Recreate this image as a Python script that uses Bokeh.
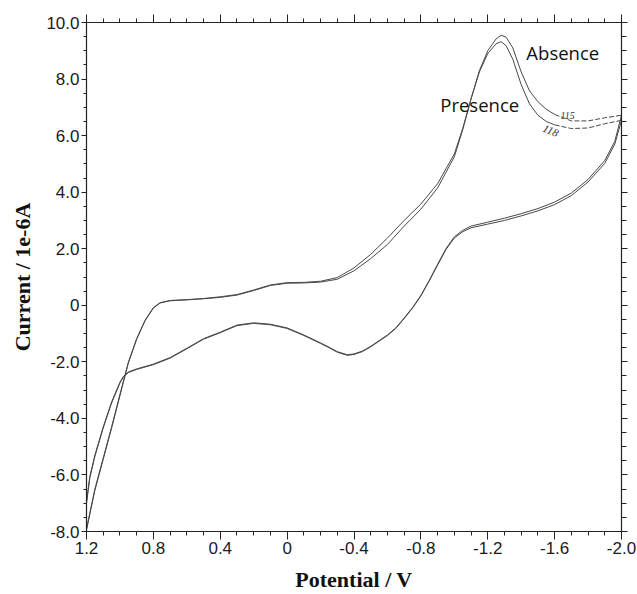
from bokeh.plotting import figure
from bokeh.models import Range1d, LinearAxis, FixedTicker, Label
from bokeh.embed import file_html
from bokeh.resources import INLINE

# ---- data ----
potential_fwd = [1.20, 1.15, 1.10, 1.05, 1.00, 0.95, 0.90, 0.85, 0.80, 0.76, 0.70, 0.60,
                 0.50, 0.40, 0.30, 0.20, 0.10, 0.00, -0.10, -0.20, -0.30, -0.40, -0.50,
                 -0.60, -0.70, -0.80, -0.90, -1.00, -1.05, -1.10, -1.15, -1.20, -1.25,
                 -1.28, -1.31, -1.35, -1.40, -1.45, -1.50, -1.55, -1.60, -1.70, -1.80,
                 -1.90, -2.00]
absence_fwd = [-7.95, -6.55, -5.45, -4.35, -3.20, -2.05, -1.20, -0.55, -0.10, 0.08, 0.16, 0.19,
               0.23, 0.28, 0.36, 0.52, 0.70, 0.78, 0.79, 0.82, 0.92, 1.22, 1.65,
               2.15, 2.80, 3.40, 4.15, 5.25, 6.20, 7.30, 8.30, 9.00, 9.42,
               9.55, 9.48, 9.10, 8.25, 7.58, 7.20, 6.93, 6.75, 6.52, 6.52,
               6.63, 6.72]
presence_fwd = [-7.90, -6.50, -5.40, -4.30, -3.15, -2.02, -1.18, -0.53, -0.08, 0.09, 0.17, 0.20,
                0.24, 0.30, 0.38, 0.54, 0.72, 0.80, 0.81, 0.85, 0.98, 1.32, 1.80,
                2.38, 3.00, 3.58, 4.30, 5.35, 6.25, 7.30, 8.25, 8.90, 9.25,
                9.32, 9.18, 8.70, 7.80, 7.12, 6.72, 6.50, 6.38, 6.25, 6.27,
                6.42, 6.54]

potential_rev = [-2.00, -1.96, -1.90, -1.80, -1.70, -1.60, -1.50, -1.40, -1.30, -1.20, -1.10,
                 -1.05, -1.00, -0.95, -0.90, -0.85, -0.80, -0.75, -0.70, -0.65, -0.60, -0.55,
                 -0.50, -0.45, -0.40, -0.36, -0.30, -0.25, -0.20, -0.10, 0.00, 0.10, 0.20,
                 0.30, 0.40, 0.50, 0.60, 0.70, 0.80, 0.90, 0.95, 0.98, 1.00, 1.05, 1.10,
                 1.15, 1.18, 1.20]
absence_rev = [6.72, 5.80, 5.12, 4.45, 3.97, 3.65, 3.42, 3.24, 3.08, 2.94, 2.80,
               2.65, 2.42, 2.00, 1.45, 0.88, 0.35, -0.08, -0.45, -0.80, -1.05, -1.25,
               -1.45, -1.62, -1.72, -1.75, -1.64, -1.48, -1.33, -1.05, -0.80, -0.67, -0.62,
               -0.70, -0.95, -1.18, -1.52, -1.85, -2.08, -2.25, -2.36, -2.52, -2.72, -3.42, -4.30,
               -5.30, -6.05, -6.95]
presence_rev = [6.54, 5.70, 5.02, 4.36, 3.88, 3.56, 3.34, 3.16, 3.00, 2.87, 2.74,
                2.60, 2.38, 1.97, 1.42, 0.86, 0.33, -0.10, -0.47, -0.82, -1.07, -1.27,
                -1.47, -1.64, -1.74, -1.77, -1.66, -1.50, -1.35, -1.07, -0.82, -0.69, -0.64,
                -0.72, -0.97, -1.20, -1.54, -1.87, -2.10, -2.27, -2.38, -2.54, -2.75, -3.46, -4.34,
                -5.35, -6.10, -7.00]

x_ticks = [1.2, 0.8, 0.4, 0.0, -0.4, -0.8, -1.2, -1.6, -2.0]
x_tick_labels = ["1.2", "0.8", "0.4", "0", "-0.4", "-0.8", "-1.2", "-1.6", "-2.0"]
y_ticks = [-8, -6, -4, -2, 0, 2, 4, 6, 8, 10]
y_tick_labels = ["-8.0", "-6.0", "-4.0", "-2.0", "0", "2.0", "4.0", "6.0", "8.0", "10.0"]
x_minor = [round(1.2 - 0.1 * i, 2) for i in range(33)]
y_minor = [-8 + 0.5 * i for i in range(37)]

LINE = "#484848"
AX = "#222222"

p = figure(width=637, height=594, x_range=Range1d(1.2, -2.0), y_range=Range1d(-8, 10),
           output_backend="svg", toolbar_location=None,
           min_border_left=86, min_border_right=16, min_border_top=22, min_border_bottom=63,
           x_axis_label="Potential / V", y_axis_label="Current / 1e-6A")
p.outline_line_color = None
p.xgrid.visible = False
p.ygrid.visible = False
p.background_fill_color = "white"
p.border_fill_color = "white"

xt = FixedTicker(ticks=x_ticks, minor_ticks=x_minor)
yt = FixedTicker(ticks=y_ticks, minor_ticks=y_minor)

top = LinearAxis(ticker=xt)
right = LinearAxis(ticker=yt)
p.add_layout(top, "above")
p.add_layout(right, "right")

bottom = p.below[0]
left = p.left[0]
bottom.ticker = xt
left.ticker = yt
bottom.major_label_overrides = dict(zip(x_ticks, x_tick_labels))
left.major_label_overrides = dict(zip(y_ticks, y_tick_labels))

for ax in (bottom, left, top, right):
    ax.axis_line_color = AX
    ax.axis_line_width = 1.2
    ax.major_tick_line_color = AX
    ax.minor_tick_line_color = AX
    ax.major_tick_in = 0
    ax.minor_tick_in = 0
    ax.major_label_text_font = "Liberation Sans"
    ax.major_label_text_font_size = "17px"
    ax.major_label_text_color = "#1a1a1a"
    ax.axis_label_text_font = "Liberation Serif"
    ax.axis_label_text_font_style = "bold"
    ax.axis_label_text_font_size = "22px"
    ax.axis_label_text_color = "#111111"

bottom.major_tick_out = 8
bottom.minor_tick_out = 4
bottom.major_label_standoff = 2
bottom.axis_label_standoff = 10
left.major_tick_out = 5
left.minor_tick_out = 3
left.major_label_standoff = 2
left.axis_label_standoff = 8
top.major_tick_out = 8
top.minor_tick_out = 4
top.major_label_text_color = None
top.major_label_text_font_size = "1px"
top.major_label_standoff = 0
right.major_tick_out = 6
right.minor_tick_out = 5
right.major_label_text_color = None
right.major_label_text_font_size = "1px"
right.major_label_standoff = 0

# curves
split = potential_fwd.index(-1.60) + 1
for cur_f, cur_r in ((absence_fwd, absence_rev), (presence_fwd, presence_rev)):
    p.line(potential_fwd[:split], cur_f[:split], line_color=LINE, line_width=1.0)
    p.line(potential_fwd[split - 1:], cur_f[split - 1:], line_color=LINE, line_width=1.0,
           line_dash="5 2")
    p.line(potential_rev, cur_r, line_color=LINE, line_width=1.0)

# annotations
p.add_layout(Label(x=-1.431, y=8.94, text="Absence", text_font="Open Sans",
                   text_font_size="18.5px", text_color="#111111",
                   text_align="left", text_baseline="middle"))
p.add_layout(Label(x=-0.916, y=7.10, text="Presence", text_font="Open Sans",
                   text_font_size="18.5px", text_color="#111111",
                   text_align="left", text_baseline="middle"))
p.add_layout(Label(x=-1.635, y=6.71, text="115", text_font="Liberation Serif",
                   text_font_style="italic", text_font_size="10px", text_color="#333333",
                   text_align="left", text_baseline="middle"))
p.add_layout(Label(x=-1.533, y=6.28, text="118", text_font="Liberation Serif",
                   text_font_style="italic", text_font_size="11px", text_color="#333333",
                   text_align="left", text_baseline="middle", angle=-0.4))

open("out.html", "w").write(file_html(p, INLINE))
